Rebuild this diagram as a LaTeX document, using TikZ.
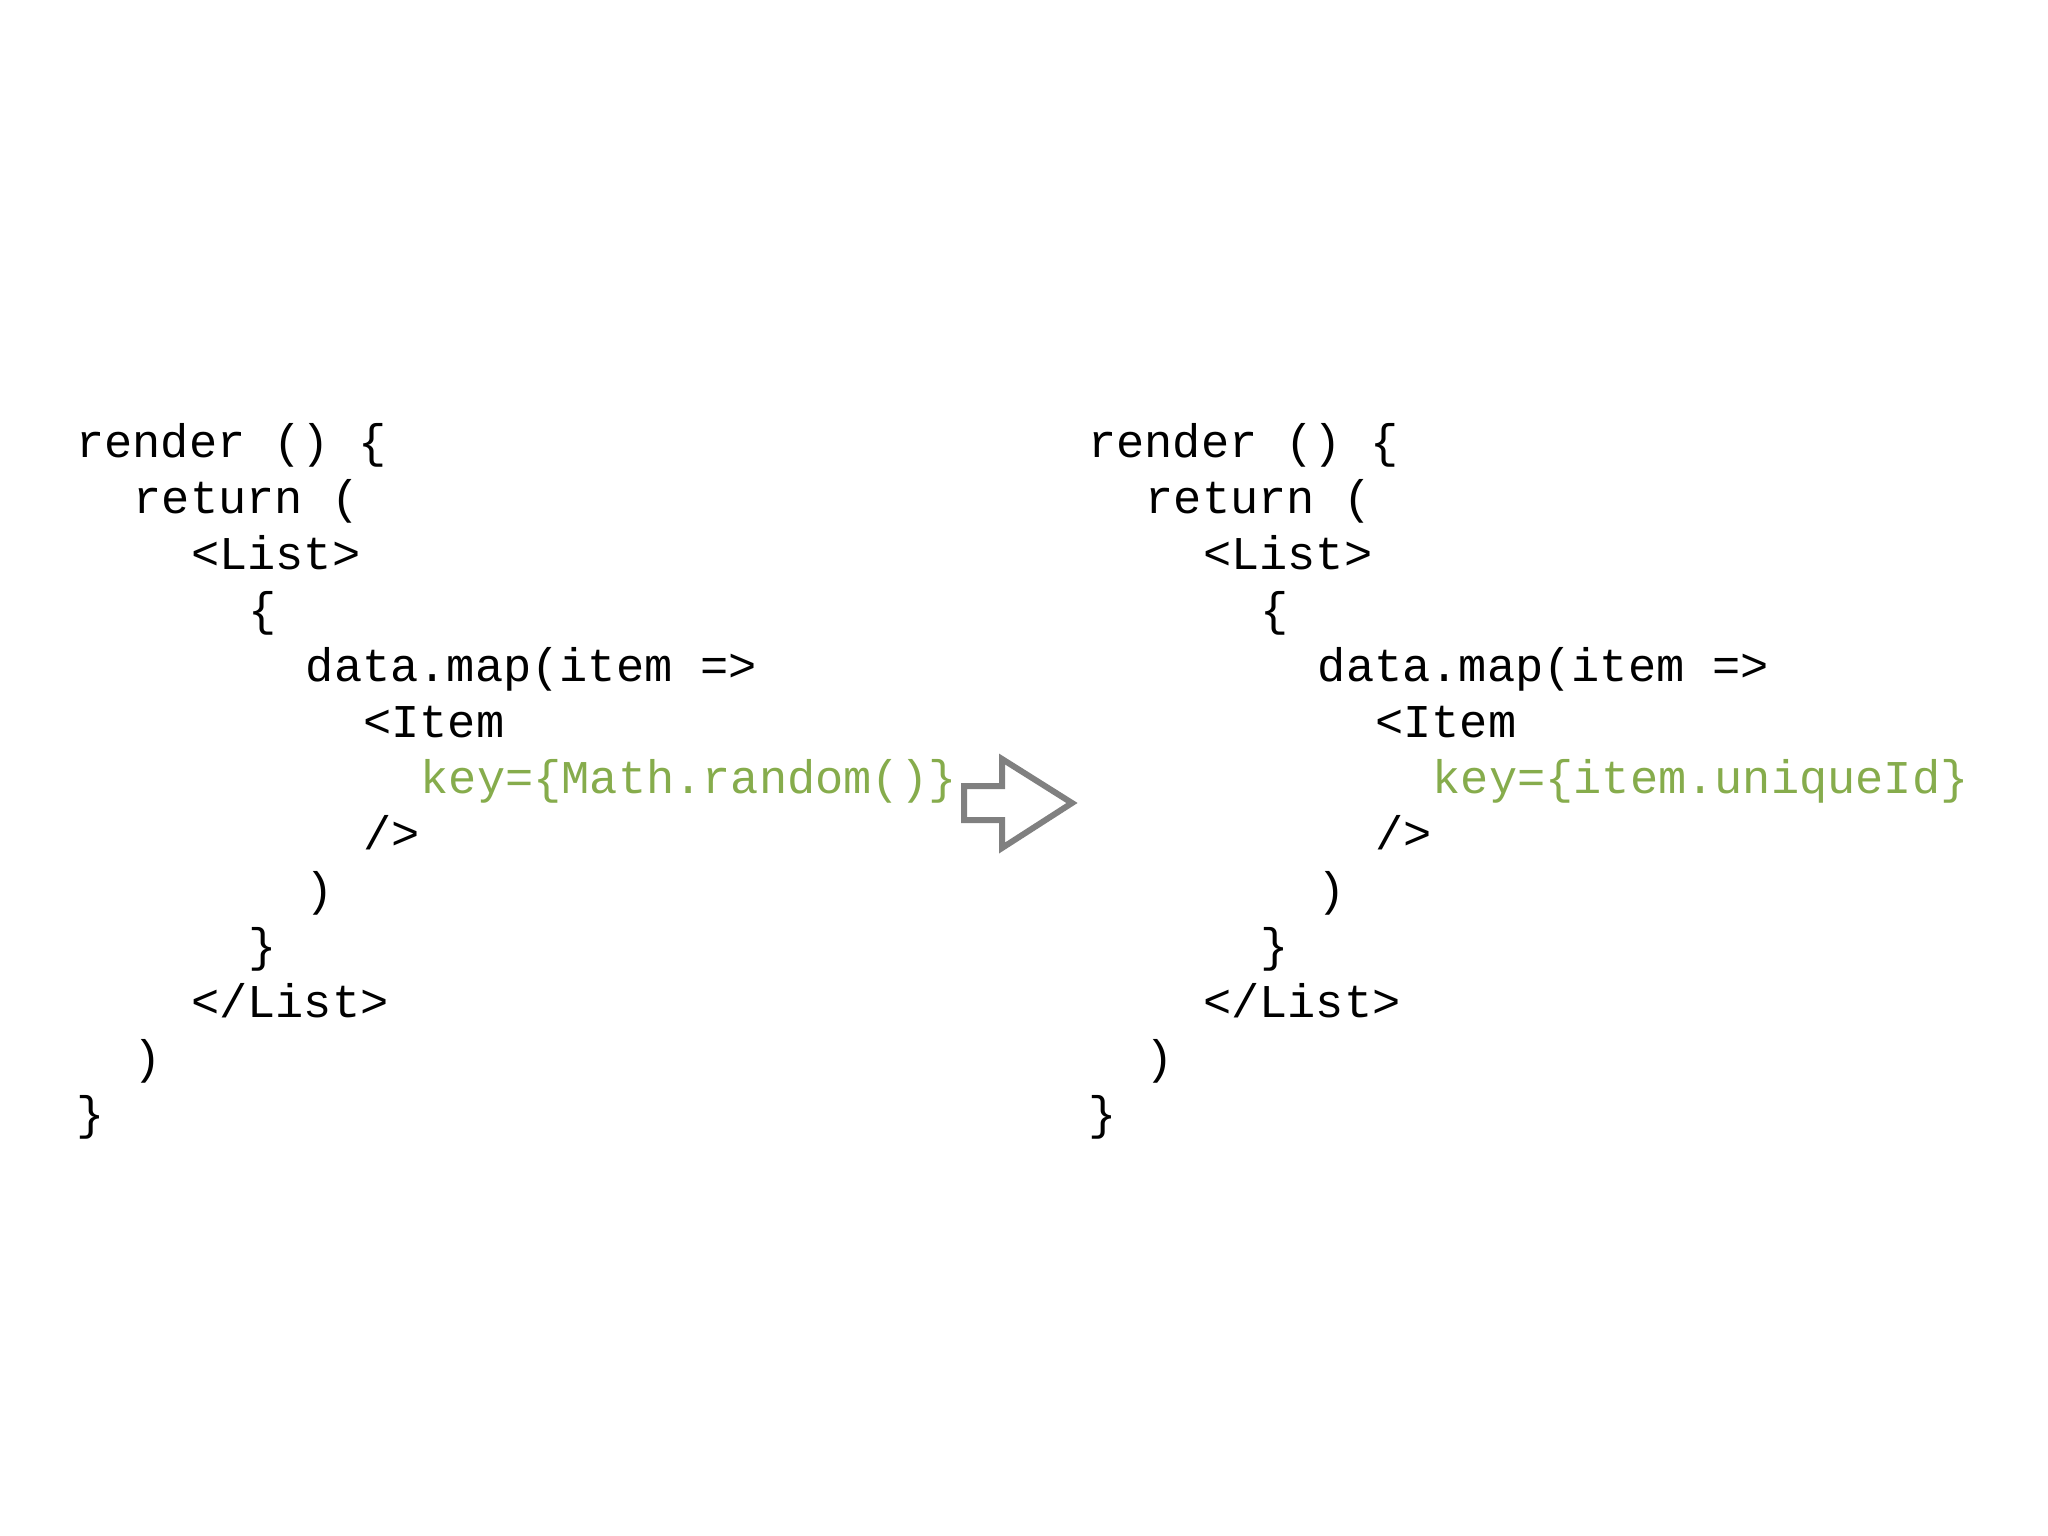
\documentclass[tikz,border=0pt]{standalone}
\usepackage{fontspec}
\setmonofont{Liberation Mono}
\definecolor{codegreen}{HTML}{86AC4C}
\definecolor{arrowgray}{HTML}{808080}
\begin{document}
\begin{tikzpicture}[x=1pt,y=-1pt,
  code/.style={anchor=base west,inner sep=0pt,font=\ttfamily\fontsize{47}{56}\selectfont},
  keytxt/.style={code,text=codegreen}]
\useasboundingbox (0,0) rectangle (2048,1536);
\fill[white] (0,0) rectangle (2048,1536);
\def\cw{28.7}
\foreach \side/\x/\keyline in {L/76/{key=\{Math.random()\}},R/1088/{key=\{item.uniqueId\}}}{
  \node[code] (\side1) at (\x,457) {render () \{};
  \node[code] (\side2) at (\x+2*\cw,513) {return (};
  \node[code] (\side3) at (\x+4*\cw,569) {<List>};
  \node[code] (\side4) at (\x+6*\cw,625) {\{};
  \node[code] (\side5) at (\x+8*\cw,681) {data.map(item =>};
  \node[code] (\side6) at (\x+10*\cw,737) {<Item};
  \node[keytxt] (\side7) at (\x+12*\cw,793) {\keyline};
  \node[code] (\side8) at (\x+10*\cw,849) {/>};
  \node[code] (\side9) at (\x+8*\cw,905) {)};
  \node[code] (\side10) at (\x+6*\cw,961) {\}};
  \node[code] (\side11) at (\x+4*\cw,1017) {</List>};
  \node[code] (\side12) at (\x+2*\cw,1073) {)};
  \node[code] (\side13) at (\x,1129) {\}};
}
\draw[arrowgray,line width=6pt,line join=miter]
  (964,786) -- (1002,786) -- (1002,759) -- (1072,803) -- (1002,848) -- (1002,820) -- (964,820) -- cycle;
\end{tikzpicture}
\end{document}
